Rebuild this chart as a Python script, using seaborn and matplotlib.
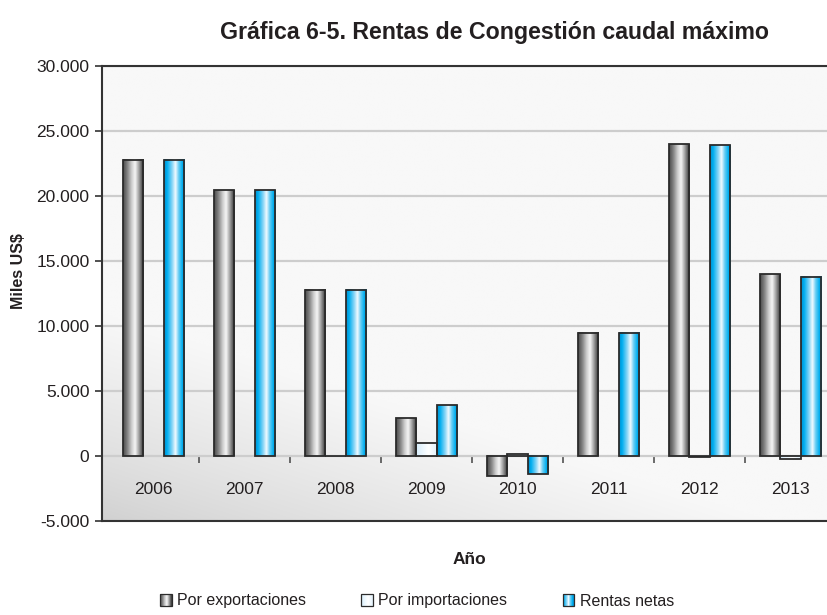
import numpy as np
import pandas as pd
import matplotlib
matplotlib.use("Agg")
import matplotlib.pyplot as plt
from matplotlib.colors import LinearSegmentedColormap, to_rgb
from matplotlib.patches import Rectangle
from matplotlib.ticker import FuncFormatter, FixedLocator
from matplotlib.legend_handler import HandlerBase
import seaborn as sns

# ---- data (miles US$) ----
years = ["2006", "2007", "2008", "2009", "2010", "2011", "2012", "2013"]
exportaciones = [22800, 20450, 12800, 2900, -1550, 9500, 24000, 14000]
importaciones = [0, 0, -20, 1000, 150, 0, -80, -230]
rentas_netas = [22800, 20450, 12780, 3900, -1400, 9500, 23920, 13770]
series = ["Por exportaciones", "Por importaciones", "Rentas netas"]

title = "Gráfica 6-5. Rentas de Congestión caudal máximo"
ylabel = "Miles US$"
xlabel = "Año"

# ---- styling ----
sns.set_theme(style="white")
plt.rcParams["font.family"] = ["Liberation Sans", "DejaVu Sans"]
TEXT = "#231f20"
EDGE = "#2b2b2b"

# horizontal "cylinder" shading for each series
cmaps = {
    "Por exportaciones": LinearSegmentedColormap.from_list(
        "gris",
        [(0.0, "#4a4a4a"), (0.2, "#808080"), (0.42, "#cfcfcf"), (0.58, "#f6f6f6"),
         (0.74, "#ababab"), (0.9, "#5a5a5a"), (1.0, "#383838")]),
    "Por importaciones": LinearSegmentedColormap.from_list(
        "hielo",
        [(0.0, "#d6edfb"), (0.35, "#eef8fe"), (0.6, "#ffffff"), (1.0, "#e2f2fc")]),
    "Rentas netas": LinearSegmentedColormap.from_list(
        "azul",
        [(0.0, "#0090cf"), (0.15, "#00aeef"), (0.4, "#8fd8f7"), (0.55, "#f2fbff"),
         (0.7, "#6acdf4"), (0.88, "#00aeef"), (1.0, "#0092d3")]),
}
base_colors = ["#9a9a9a", "#eef8fe", "#00aeef"]

df = pd.DataFrame({
    "Año": years * 3,
    "valor": exportaciones + importaciones + rentas_netas,
    "serie": np.repeat(series, len(years)),
})

fig = plt.figure(figsize=(8.27, 6.15), dpi=100)
ax = fig.add_axes([102 / 827, 1 - 521 / 615, (836 - 102) / 827, (521 - 66) / 615])

sns.barplot(data=df, x="Año", y="valor", hue="serie", order=years,
            hue_order=series, palette=base_colors, width=0.68,
            edgecolor=EDGE, linewidth=1.3, legend=False, ax=ax, zorder=3)

# shade each bar with its gradient
grad = np.linspace(0, 1, 256).reshape(1, -1)
for name, container in zip(series, ax.containers):
    for patch in container.patches:
        x0, y0 = patch.get_xy()
        w, h = patch.get_width(), patch.get_height()
        if h == 0:
            patch.set_linewidth(0)
            continue
        ax.imshow(grad, extent=[x0, x0 + w, min(y0, y0 + h), max(y0, y0 + h)],
                  aspect="auto", cmap=cmaps[name], zorder=2.8,
                  interpolation="bilinear")
        patch.set_facecolor("none")
        patch.set_zorder(3)

# plot-area background: soft diagonal grey gradient
u, v = np.meshgrid(np.linspace(0, 1, 300), np.linspace(1, 0, 300))
t = np.clip(1.1 * u + 2.2 * v, 0, 1) ** 0.8
c0, c1 = np.array(to_rgb("#d0d0d0")), np.array(to_rgb("#f8f8f8"))
bg = c0[None, None, :] * (1 - t[..., None]) + c1[None, None, :] * t[..., None]
ax.imshow(bg, extent=[0, 1, 0, 1], transform=ax.transAxes, aspect="auto",
          zorder=0, interpolation="bilinear")

ax.set_xlim(-0.566, 7.5)
ax.set_ylim(-5000, 30000)
ax.set_yticks(np.arange(-5000, 30001, 5000))
ax.yaxis.set_major_formatter(FuncFormatter(lambda v, p: f"{int(v):,}".replace(",", ".")))
ax.set_axisbelow(True)
ax.yaxis.grid(True, color="#cdcdcd", linewidth=1.6)
ax.xaxis.grid(False)

for side in ["left", "bottom", "top", "right"]:
    ax.spines[side].set_color("#333333")
    ax.spines[side].set_linewidth(1.5)

ax.tick_params(axis="y", left=True, length=5, width=1.2, color="#333333",
               labelsize=12.5, labelcolor=TEXT, pad=4)
ax.tick_params(axis="x", bottom=False, labelbottom=False)
ax.set_xlabel(xlabel, fontsize=12.5, fontweight="bold", color=TEXT, labelpad=22)
ax.set_ylabel(ylabel, fontsize=11.5, fontweight="bold", color=TEXT)
ax.yaxis.set_label_coords(-0.104, 0.55)

# category labels and separators hang from the zero line
sec = ax.secondary_xaxis(5000 / 35000)
sec.set_xticks(np.arange(len(years)), labels=years)
sec.xaxis.set_minor_locator(FixedLocator(np.arange(len(years) - 1) + 0.5))
sec.tick_params(which="major", length=0, pad=19, labelsize=12.5, labelcolor=TEXT)
sec.tick_params(which="minor", length=5, width=1.1, color="#444444", direction="out")
sec.spines["bottom"].set_visible(False)

fig.text(495 / 827, 1 - 32 / 615, title, ha="center", va="center",
         fontsize=16.7, fontweight="bold", color=TEXT)


class GradientSwatch(HandlerBase):
    def __init__(self, cmap):
        super().__init__()
        self.cmap = cmap

    def create_artists(self, legend, orig_handle, xdescent, ydescent,
                       width, height, fontsize, trans):
        side = min(width, height)
        x0 = -xdescent + (width - side) / 2
        y0 = -ydescent + (height - side) / 2
        n = 12
        arts = []
        for i in range(n):
            arts.append(Rectangle((x0 + side * i / n, y0), side / n, side,
                                  facecolor=self.cmap((i + 0.5) / n),
                                  edgecolor="none", transform=trans))
        arts.append(Rectangle((x0, y0), side, side, facecolor="none",
                              edgecolor=EDGE, linewidth=0.9, transform=trans))
        return arts


handles = [Rectangle((0, 0), 1, 1) for _ in series]
fig.legend(handles, series, loc="center", bbox_to_anchor=(417 / 827, 1 - 601 / 615),
           ncol=3, frameon=False, fontsize=11.5, handlelength=0.72,
           handleheight=0.72, handletextpad=0.35, columnspacing=3.45,
           labelcolor=TEXT,
           handler_map={h: GradientSwatch(cmaps[s]) for h, s in zip(handles, series)})

fig.savefig("out.png", dpi=100)
